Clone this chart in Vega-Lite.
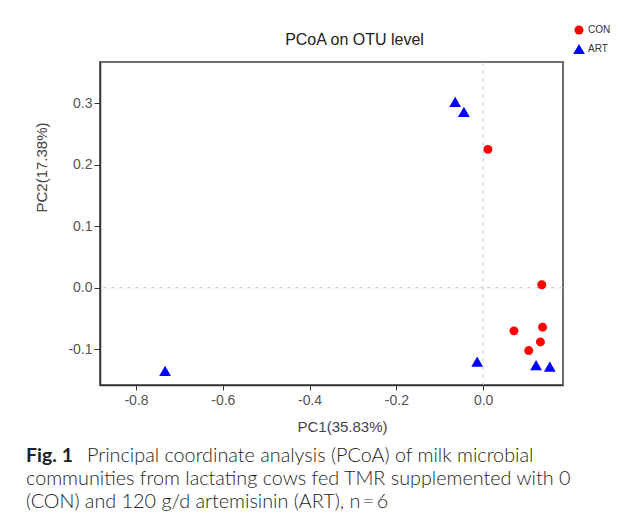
{
  "$schema": "https://vega.github.io/schema/vega-lite/v6.json",
  "padding": {"left": 26, "top": 25, "right": 5, "bottom": 2},
  "background": "white",
  "datasets": {
    "points": [
      {"group": "CON", "pc1": 0.011, "pc2": 0.225},
      {"group": "CON", "pc1": 0.135, "pc2": 0.005},
      {"group": "CON", "pc1": 0.137, "pc2": -0.064},
      {"group": "CON", "pc1": 0.071, "pc2": -0.070},
      {"group": "CON", "pc1": 0.132, "pc2": -0.088},
      {"group": "CON", "pc1": 0.105, "pc2": -0.102},
      {"group": "ART", "pc1": -0.0645, "pc2": 0.302},
      {"group": "ART", "pc1": -0.0444, "pc2": 0.286},
      {"group": "ART", "pc1": -0.733, "pc2": -0.135},
      {"group": "ART", "pc1": -0.0138, "pc2": -0.120},
      {"group": "ART", "pc1": 0.122, "pc2": -0.1255},
      {"group": "ART", "pc1": 0.1536, "pc2": -0.128}
    ],
    "caption": [
      {"line": 1, "part": "lead", "text": "Fig. 1"},
      {"line": 1, "part": "body", "text": "Principal coordinate analysis (PCoA) of milk microbial"},
      {"line": 2, "part": "body", "text": "communities from lactating cows fed TMR supplemented with 0"},
      {"line": 3, "part": "body", "text": "(CON) and 120 g/d artemisinin (ART), n\u2009=\u20096"}
    ]
  },
  "spacing": 11,
  "vconcat": [
    {
      "width": 463,
      "height": 323,
      "view": {"stroke": "#6e6e6e", "strokeWidth": 2},
      "title": {
        "text": "PCoA on OTU level",
        "font": "Liberation Sans",
        "fontSize": 16,
        "fontWeight": "normal",
        "color": "#222222",
        "anchor": "middle",
        "frame": "group",
        "dx": 23,
        "offset": 14
      },
      "layer": [
        {
          "data": {"values": [{"k": "v"}]},
          "mark": {"type": "rule", "color": "#c8c8c8", "strokeDash": [4, 4], "strokeWidth": 1},
          "encoding": {"x": {"datum": 0, "type": "quantitative"}}
        },
        {
          "data": {"values": [{"k": "h"}]},
          "mark": {"type": "rule", "color": "#c8c8c8", "strokeDash": [4, 4], "strokeWidth": 1},
          "encoding": {"y": {"datum": 0, "type": "quantitative"}}
        },
        {
          "data": {"name": "points"},
          "mark": {"type": "point", "filled": true, "opacity": 1, "strokeWidth": 0},
          "encoding": {
            "x": {
              "field": "pc1",
              "type": "quantitative",
              "scale": {"domain": [-0.883, 0.184], "nice": false, "zero": false},
              "axis": {
                "title": "PC1(35.83%)",
                "values": [-0.8, -0.6, -0.4, -0.2, 0],
                "format": ".1f",
                "grid": false,
                "tickSize": 5,
                "labelPadding": 3,
                "titlePadding": 12,
                "titleX": 242
              }
            },
            "y": {
              "field": "pc2",
              "type": "quantitative",
              "scale": {"domain": [-0.158, 0.367], "nice": false, "zero": false},
              "axis": {
                "title": "PC2(17.38%)",
                "values": [-0.1, 0, 0.1, 0.2, 0.3],
                "format": ".1f",
                "grid": false,
                "tickSize": 6,
                "labelPadding": 2,
                "titleX": -51,
                "titleY": 105
              }
            },
            "color": {
              "field": "group",
              "type": "nominal",
              "scale": {"domain": ["CON", "ART"], "range": ["#ff0000", "#0000ff"]},
              "legend": {"title": null, "orient": "none", "legendX": 473, "legendY": -37}
            },
            "shape": {
              "field": "group",
              "type": "nominal",
              "scale": {"domain": ["CON", "ART"], "range": ["circle", "triangle-up"]},
              "legend": {"title": null, "orient": "none", "legendX": 473, "legendY": -37}
            },
            "size": {
              "field": "group",
              "type": "nominal",
              "scale": {"domain": ["CON", "ART"], "range": [80, 140]},
              "legend": {"title": null, "orient": "none", "legendX": 473, "legendY": -37}
            }
          }
        }
      ]
    },
    {
      "width": 463,
      "height": 46,
      "view": {"stroke": null},
      "data": {"name": "caption"},
      "encoding": {
        "x": {"datum": 0, "type": "quantitative", "scale": {"domain": [0, 1]}, "axis": null},
        "y": {"field": "line", "type": "ordinal", "scale": {"padding": 0}, "axis": null}
      },
      "layer": [
        {
          "transform": [{"filter": "datum.part === 'lead'"}],
          "mark": {"type": "text", "align": "left", "baseline": "alphabetic", "font": "Lato", "fontSize": 19.5, "fontWeight": "bold", "color": "#222222", "dx": -74},
          "encoding": {"text": {"field": "text", "type": "nominal"}}
        },
        {
          "transform": [{"filter": "datum.part === 'body' && datum.line === 1"}],
          "mark": {"type": "text", "align": "left", "baseline": "alphabetic", "font": "Lato", "fontSize": 19.8, "fontWeight": 300, "color": "#1e1e1e", "dx": -13},
          "encoding": {"text": {"field": "text", "type": "nominal"}}
        },
        {
          "transform": [{"filter": "datum.part === 'body' && datum.line > 1"}],
          "mark": {"type": "text", "align": "left", "baseline": "alphabetic", "font": "Lato", "fontSize": 19.8, "fontWeight": 300, "color": "#1e1e1e", "dx": -74},
          "encoding": {"text": {"field": "text", "type": "nominal"}}
        }
      ]
    }
  ],
  "config": {
    "locale": {"number": {"decimal": ".", "thousands": ",", "grouping": [3], "currency": ["$", ""], "minus": "-"}},
    "axis": {
      "labelFont": "Liberation Sans",
      "labelFontSize": 14,
      "labelColor": "#555555",
      "titleFont": "Liberation Sans",
      "titleFontSize": 15,
      "titleFontWeight": "normal",
      "titleColor": "#444444",
      "domainColor": "#333333",
      "domainWidth": 1.5,
      "tickColor": "#333333",
      "tickWidth": 1
    },
    "legend": {
      "padding": 0,
      "labelFont": "Liberation Sans",
      "labelFontSize": 10,
      "labelColor": "#333333",
      "labelOffset": 3,
      "rowPadding": 8,
      "symbolStrokeWidth": 0
    }
  }
}
